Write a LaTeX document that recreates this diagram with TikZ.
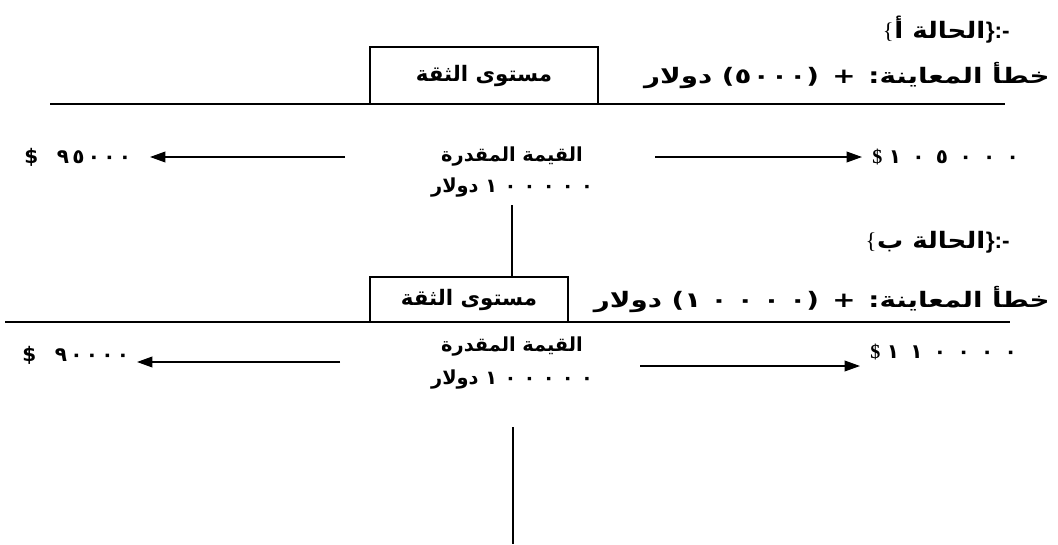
\documentclass[tikz,border=0pt]{standalone}
\usepackage{fontspec}
\usetikzlibrary{arrows.meta}
\TeXXeTstate=1
\newfontfamily\arabicfont[Script=Arabic]{DejaVu Sans}
\newfontfamily\arabicwide[Script=Arabic, FakeStretch=1.3]{DejaVu Sans}
\newfontfamily\arabictitle[Script=Arabic, FakeStretch=1.15]{DejaVu Sans}
\newfontfamily\serifdollar{Liberation Serif}
\newfontfamily\latinbold{Liberation Sans}
\newcommand{\AR}[1]{\beginR #1\endR}
\newcommand{\LT}[1]{\beginL #1\endL{}}
\newcommand{\dk}{\kern 2.5pt}
\newcommand{\dK}{\kern 8.5pt}
\newcommand{\dm}{\kern 5.5pt}
\newcommand{\ds}{\kern 1pt}
\newcommand{\dw}{\kern 7pt}
\begin{document}
\begin{tikzpicture}[x=0.75pt,y=-0.75pt,
  every node/.style={font=\arabicfont\bfseries\fontsize{15}{17}\selectfont, inner sep=0pt},
  est/.style={font=\arabicfont\bfseries\fontsize{14.5}{17}\selectfont},
  big/.style={font=\arabictitle\bfseries\fontsize{17}{19}\selectfont},
  mid/.style={font=\arabicfont\bfseries\fontsize{16}{18}\selectfont},
  wide/.style={font=\arabicwide\bfseries\fontsize{16}{18}\selectfont},
  brace/.style={font=\serifdollar\fontsize{17}{19}\selectfont},
  punct/.style={font=\latinbold\bfseries\fontsize{17}{19}\selectfont},
  rule/.style={line width=1.1pt},
  arr/.style={line width=1.1pt, -{Triangle[length=11.5pt,width=8pt]}},
  confbox/.style={draw, line width=1.2pt}]
\useasboundingbox (0,0) rectangle (1058,544);
% ---------- case A ----------
\node[punct, anchor=base east] (ta3) at (1010,38) {\}:-};
\node[big, anchor=base east] (ta2) at (ta3.base west) {\AR{الحالة أ}};
\node[brace, anchor=base east] (ta1) at (ta2.base west) {\{};
\node[confbox, mid, minimum width=171pt, minimum height=42.75pt] (boxa) at (484,75.5) {\AR{مستوى الثقة}};
\node[wide, anchor=east] (ea) at (1050,76) {\AR{خطأ المعاينة: +\hspace{10pt}(\LT{٥\ds٠\ds٠\ds٠}) دولار}};
\coordinate (la1) at (50,104);
\coordinate (la2) at (1005,104);
\draw[rule] (la1) -- (la2);
\node[anchor=west] (lowa) at (24,157) {\$\hspace{14pt}٩\dk٥\dk٠\dk٠\dk٠};
\node[est] (esta) at (512,157) {\AR{القيمة المقدرة}};
\node[est] (vala) at (512,188) {\AR{\LT{١\dm٠\dm٠\dm٠\dm٠\dm٠} دولار}};
\node[anchor=west] (higha) at (872,157) {{\serifdollar\$}\hspace{5pt}١\dK٠\dK٥\dK٠\dK٠\dK٠};
\coordinate (aa1) at (345,157);
\coordinate (aa2) at (150,157);
\coordinate (ab1) at (655,157);
\coordinate (ab2) at (862,157);
\draw[arr] (aa1) -- (aa2);
\draw[arr] (ab1) -- (ab2);
% ---------- case B ----------
\node[punct, anchor=base east] (tb3) at (1010,248) {\}:-};
\node[big, anchor=base east] (tb2) at (tb3.base west) {\AR{الحالة ب}};
\node[brace, anchor=base east] (tb1) at (tb2.base west) {\{};
\node[confbox, mid, minimum width=148.5pt, minimum height=33.75pt] (boxb) at (469,299.5) {\AR{مستوى الثقة}};
\node[wide, anchor=east] (eb) at (1050,300) {\AR{خطأ المعاينة: +\hspace{10pt}(\LT{١\dw٠\dw٠\dw٠\dw٠}) دولار}};
\coordinate (lb1) at (5,322);
\coordinate (lb2) at (1010,322);
\draw[rule] (lb1) -- (lb2);
\node[anchor=west] (lowb) at (22,355) {\$\hspace{14pt}٩\dk٠\dk٠\dk٠\dk٠};
\node[est] (estb) at (512,347) {\AR{القيمة المقدرة}};
\node[est] (valb) at (512,380) {\AR{\LT{١\dm٠\dm٠\dm٠\dm٠\dm٠} دولار}};
\node[anchor=west] (highb) at (870,352) {{\serifdollar\$}\hspace{5pt}١\dK١\dK٠\dK٠\dK٠\dK٠};
\coordinate (ba1) at (340,362);
\coordinate (ba2) at (137,362);
\coordinate (bb1) at (640,366);
\coordinate (bb2) at (860,366);
\draw[arr] (ba1) -- (ba2);
\draw[arr] (bb1) -- (bb2);
% ---------- vertical connectors ----------
\coordinate (va) at (512,205);
\draw[rule] (va) -- (va |- boxb.north);
\coordinate (vb1) at (513,427);
\coordinate (vb2) at (513,544);
\draw[rule] (vb1) -- (vb2);
\end{tikzpicture}
\end{document}
